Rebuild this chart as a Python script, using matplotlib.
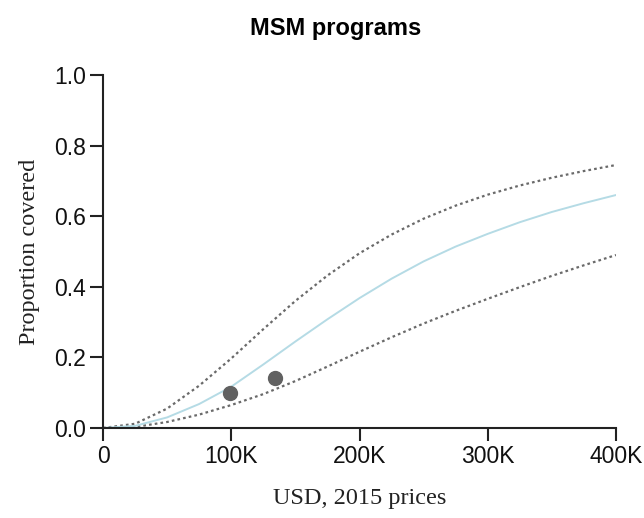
import matplotlib.pyplot as plt
import numpy as np

# cost in USD (2015 prices)
cost = [0, 25e3, 50e3, 75e3, 100e3, 125e3, 150e3, 175e3, 200e3,
        225e3, 250e3, 275e3, 300e3, 325e3, 350e3, 375e3, 400e3]
upper = [0, 0.012, 0.055, 0.12, 0.197, 0.28, 0.36, 0.432, 0.495,
         0.548, 0.593, 0.63, 0.661, 0.687, 0.709, 0.728, 0.745]
middle = [0, 0.006, 0.03, 0.068, 0.117, 0.18, 0.245, 0.308, 0.368,
          0.423, 0.472, 0.514, 0.55, 0.583, 0.612, 0.637, 0.66]
lower = [0, 0.003, 0.017, 0.038, 0.065, 0.096, 0.133, 0.174, 0.216,
         0.257, 0.296, 0.332, 0.366, 0.399, 0.431, 0.461, 0.49]

# observed programs
obs_cost = [98.7e3, 134e3]
obs_prop = [0.10, 0.142]

xticks = [0, 100e3, 200e3, 300e3, 400e3]
xticklabels = ["0", "100K", "200K", "300K", "400K"]
yticks = [0.0, 0.2, 0.4, 0.6, 0.8, 1.0]

fig = plt.figure(figsize=(6.44, 5.18), dpi=100)
ax = fig.add_axes([103 / 644, 1 - 428 / 518, 513 / 644, 353 / 518])

ax.plot(cost, upper, color="#6a6a6a", lw=1.6, ls=(0, (1.2, 1.4)))
ax.plot(cost, lower, color="#6a6a6a", lw=1.6, ls=(0, (1.2, 1.4)))
ax.plot(cost, middle, color="#b5dbe5", lw=1.4, solid_joinstyle="round")
ax.plot(obs_cost, obs_prop, "o", color="#616161", ms=10, zorder=5)

ax.set_xlim(0, 400e3)
ax.set_ylim(0, 1.0)
ax.set_xticks(xticks)
ax.set_xticklabels(xticklabels)
ax.set_yticks(yticks)
ax.set_yticklabels(["%.1f" % v for v in yticks])

for s in ["top", "right"]:
    ax.spines[s].set_visible(False)
for s in ["left", "bottom"]:
    ax.spines[s].set_linewidth(1.5)
    ax.spines[s].set_color("#222222")
ax.tick_params(length=9.5, width=1.5, color="#222222", labelsize=16.5,
               labelcolor="#111111", pad=3)
for lab in ax.get_xticklabels() + ax.get_yticklabels():
    lab.set_family("Liberation Sans")

ax.set_xlabel("USD, 2015 prices", family="Liberation Serif", fontsize=17.5,
              labelpad=14, color="#222222")
ax.set_ylabel("Proportion covered", family="Liberation Serif", fontsize=17.5,
              labelpad=10, color="#222222")

fig.text(336 / 644, 1 - 28 / 518, "MSM programs", family="Liberation Sans",
         fontweight="bold", fontsize=17, ha="center", va="center")

fig.savefig("out.png", dpi=100)
